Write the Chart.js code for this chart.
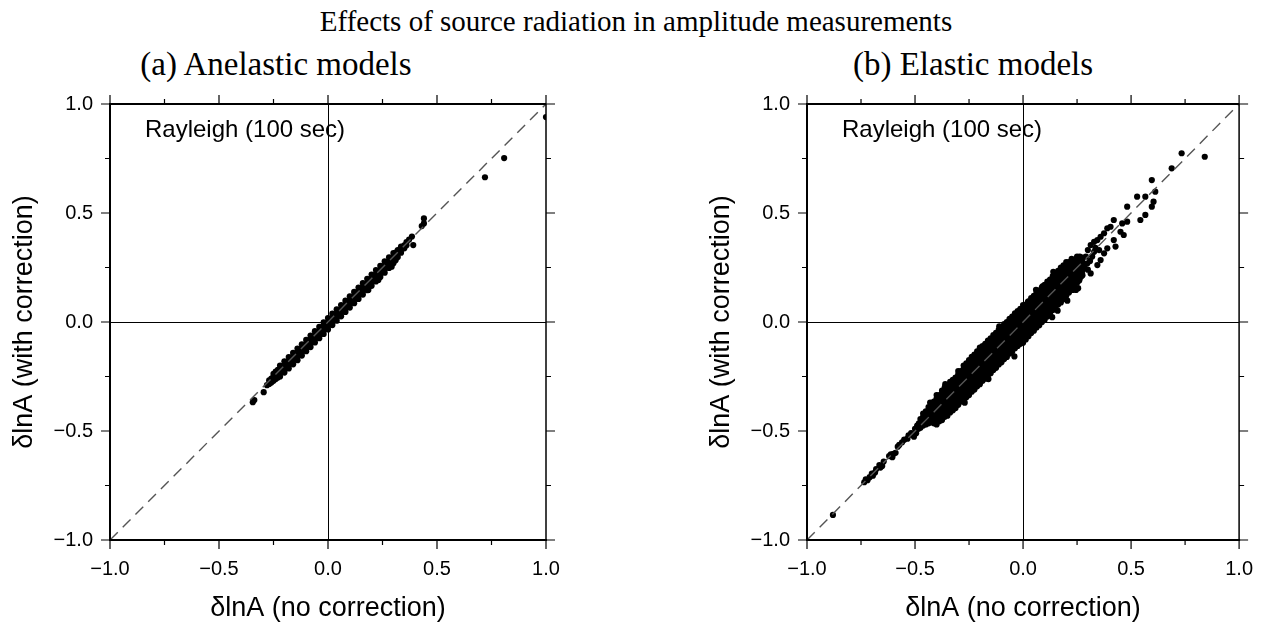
<!DOCTYPE html>
<html><head><meta charset="utf-8">
<script src="https://cdn.jsdelivr.net/npm/chart.js@4.4.1/dist/chart.umd.min.js"></script>
<style>
html,body{margin:0;padding:0;background:#fff;width:1270px;height:628px;overflow:hidden;}
#wrap{position:relative;width:1270px;height:628px;}
.t{position:absolute;font-family:'Liberation Serif','Times New Roman',serif;color:#000;white-space:nowrap;transform:translateX(-50%);line-height:1;}
.box{position:absolute;top:0;width:635px;height:628px;}
</style></head><body>
<div id="wrap">
<div class="t" style="left:636px;top:7px;font-size:29px;">Effects of source radiation in amplitude measurements</div>
<div class="t" style="left:276px;top:48px;font-size:33px;">(a) Anelastic models</div>
<div class="t" style="left:973px;top:48px;font-size:33px;">(b) Elastic models</div>
<div class="box" style="left:0"><canvas id="c1" width="635" height="628"></canvas></div>
<div class="box" style="left:635px"><canvas id="c2" width="635" height="628"></canvas></div>
</div>
<script>
// ---- axis / labels ----
const majorTicks = [-1, -0.5, 0, 0.5, 1];
const minorTicks = [-0.75, -0.25, 0.25, 0.75];
const diagonalLine = [-1, 1];
const xTitle = 'δlnA (no correction)';
const yTitle = 'δlnA (with correction)';
const panelNote = 'Rayleigh (100 sec)';

// ---- (a) Anelastic models: columns [no correction, [with correction ...]] ----
const anelasticBand = [
[-0.345,[-0.368]],[-0.338,[-0.358]],[-0.295,[-0.322]],[-0.28,[-0.29]],[-0.27,[-0.284,-0.268]],[-0.26,[-0.278,-0.26]],
[-0.25,[-0.27,-0.252,-0.238]],[-0.24,[-0.262,-0.245,-0.228]],[-0.23,[-0.255,-0.238,-0.22]],
[-0.22,[-0.25,-0.234,-0.218,-0.2]],[-0.2,[-0.232,-0.216,-0.198,-0.18]],[-0.18,[-0.213,-0.196,-0.178,-0.161]],
[-0.16,[-0.194,-0.177,-0.158,-0.142]],[-0.14,[-0.175,-0.158,-0.139,-0.122]],[-0.12,[-0.154,-0.138,-0.12,-0.102]],
[-0.1,[-0.134,-0.118,-0.1,-0.082]],[-0.08,[-0.115,-0.098,-0.08,-0.062]],[-0.06,[-0.094,-0.078,-0.06,-0.042]],
[-0.04,[-0.074,-0.058,-0.04,-0.022]],[-0.02,[-0.055,-0.038,-0.02,-0.002]],[0.0,[-0.034,-0.018,0.0,0.018]],
[0.02,[-0.014,0.002,0.02,0.038]],[0.04,[0.006,0.022,0.04,0.058]],[0.06,[0.026,0.042,0.06,0.078]],
[0.08,[0.046,0.062,0.08,0.098]],[0.1,[0.066,0.082,0.1,0.118]],[0.12,[0.086,0.102,0.12,0.138]],
[0.14,[0.106,0.122,0.14,0.158]],[0.16,[0.126,0.142,0.16,0.178]],[0.18,[0.146,0.162,0.18,0.198]],
[0.2,[0.166,0.182,0.2,0.218]],[0.22,[0.186,0.202,0.22,0.238]],[0.24,[0.206,0.222,0.24,0.258]],
[0.26,[0.226,0.242,0.26,0.278]],[0.28,[0.248,0.262,0.28,0.297]],[0.3,[0.27,0.284,0.3,0.316]],
[0.31,[0.283,0.3,0.318]],[0.32,[0.298,0.315,0.33]],[0.335,[0.318,0.334,0.346]],[0.35,[0.338,0.352]],
[0.36,[0.352,0.366]],[0.372,[0.378]],[0.385,[0.392]]
];
const anelasticOutliers = [
[0.44,0.475],[0.44,0.452],[0.43,0.44],[0.391,0.353],[0.292,0.254],[0.231,0.193],[0.185,0.147],
[0.72,0.664],[0.808,0.752],[1.0,0.94]
];

// ---- (b) Elastic models ----
const elasticTail = [
[-0.88,-0.885],[-0.735,-0.735],[-0.728,-0.722],[-0.72,-0.726],[-0.71,-0.712],[-0.7,-0.695],[-0.695,-0.705],[-0.685,-0.69],
[-0.68,-0.675],[-0.665,-0.656],[-0.66,-0.668],[-0.652,-0.66],[-0.645,-0.64],[-0.62,-0.615],[-0.612,-0.607],[-0.605,-0.62],
[-0.6,-0.605],[-0.59,-0.6],[-0.58,-0.572],[-0.573,-0.564],[-0.56,-0.552],[-0.55,-0.54],[-0.535,-0.535],[-0.53,-0.52],
[-0.518,-0.51],[-0.505,-0.526],[-0.5,-0.49],[-0.495,-0.51],[-0.49,-0.475],[-0.482,-0.465],[-0.484,-0.49]
];
const elasticCore = [
[-0.475,[-0.485,-0.465,-0.445]],
[-0.4625,[-0.475,-0.455,-0.435,-0.42]],
[-0.45,[-0.47,-0.45,-0.43,-0.41]],
[-0.4375,[-0.465,-0.445,-0.425,-0.405,-0.39]],
[-0.425,[-0.46,-0.44,-0.42,-0.4,-0.38]],
[-0.4125,[-0.465,-0.445,-0.425,-0.405,-0.385,-0.365]],
[-0.4,[-0.47,-0.45,-0.43,-0.41,-0.39,-0.37,-0.35,-0.335]],
[-0.3875,[-0.455,-0.435,-0.415,-0.395,-0.375,-0.355,-0.335]],
[-0.375,[-0.45,-0.43,-0.41,-0.39,-0.37,-0.35,-0.33,-0.315]],
[-0.3625,[-0.435,-0.415,-0.395,-0.375,-0.355,-0.335,-0.315,-0.3]],
[-0.35,[-0.43,-0.41,-0.39,-0.37,-0.35,-0.33,-0.31,-0.29]],
[-0.3375,[-0.415,-0.395,-0.375,-0.355,-0.335,-0.315,-0.295,-0.275]],
[-0.325,[-0.405,-0.385,-0.365,-0.345,-0.325,-0.305,-0.285,-0.265]],
[-0.3125,[-0.395,-0.375,-0.355,-0.335,-0.315,-0.295,-0.275,-0.255]],
[-0.3,[-0.38,-0.36,-0.34,-0.32,-0.3,-0.28,-0.26,-0.24]],
[-0.2875,[-0.365,-0.345,-0.325,-0.305,-0.285,-0.265,-0.245,-0.225]],
[-0.275,[-0.355,-0.335,-0.315,-0.295,-0.275,-0.255,-0.235,-0.215,-0.2]],
[-0.2625,[-0.345,-0.325,-0.305,-0.285,-0.265,-0.245,-0.225,-0.205,-0.19]],
[-0.25,[-0.335,-0.315,-0.295,-0.275,-0.255,-0.235,-0.215,-0.195,-0.175]],
[-0.2375,[-0.32,-0.3,-0.28,-0.26,-0.24,-0.22,-0.2,-0.18,-0.16]],
[-0.225,[-0.31,-0.29,-0.27,-0.25,-0.23,-0.21,-0.19,-0.17,-0.15]],
[-0.2125,[-0.295,-0.275,-0.255,-0.235,-0.215,-0.195,-0.175,-0.155,-0.135]],
[-0.2,[-0.285,-0.265,-0.245,-0.225,-0.205,-0.185,-0.165,-0.145,-0.125]],
[-0.1875,[-0.27,-0.25,-0.23,-0.21,-0.19,-0.17,-0.15,-0.13,-0.11]],
[-0.175,[-0.26,-0.24,-0.22,-0.2,-0.18,-0.16,-0.14,-0.12,-0.1]],
[-0.1625,[-0.245,-0.225,-0.205,-0.185,-0.165,-0.145,-0.125,-0.105,-0.085]],
[-0.15,[-0.235,-0.215,-0.195,-0.175,-0.155,-0.135,-0.115,-0.095,-0.075]],
[-0.1375,[-0.22,-0.2,-0.18,-0.16,-0.14,-0.12,-0.1,-0.08,-0.06]],
[-0.125,[-0.21,-0.19,-0.17,-0.15,-0.13,-0.11,-0.09,-0.07,-0.05]],
[-0.1125,[-0.195,-0.175,-0.155,-0.135,-0.115,-0.095,-0.075,-0.055,-0.035]],
[-0.1,[-0.185,-0.165,-0.145,-0.125,-0.105,-0.085,-0.065,-0.045,-0.025]],
[-0.0875,[-0.17,-0.15,-0.13,-0.11,-0.09,-0.07,-0.05,-0.03,-0.01]],
[-0.075,[-0.16,-0.14,-0.12,-0.1,-0.08,-0.06,-0.04,-0.02,0.0]],
[-0.0625,[-0.145,-0.125,-0.105,-0.085,-0.065,-0.045,-0.025,-0.005,0.015]],
[-0.05,[-0.135,-0.115,-0.095,-0.075,-0.055,-0.035,-0.015,0.005,0.025]],
[-0.0375,[-0.12,-0.1,-0.08,-0.06,-0.04,-0.02,0.0,0.02,0.04]],
[-0.025,[-0.11,-0.09,-0.07,-0.05,-0.03,-0.01,0.01,0.03,0.05]],
[-0.0125,[-0.1,-0.08,-0.06,-0.04,-0.02,0.0,0.02,0.04,0.06]],
[0.0,[-0.095,-0.075,-0.055,-0.035,-0.015,0.005,0.025,0.045,0.065,0.078]],
[0.0125,[-0.08,-0.06,-0.04,-0.02,0.0,0.02,0.04,0.06,0.08]],
[0.025,[-0.065,-0.045,-0.025,-0.005,0.015,0.035,0.055,0.075,0.095]],
[0.0375,[-0.05,-0.03,-0.01,0.01,0.03,0.05,0.07,0.09,0.11]],
[0.05,[-0.04,-0.02,0.0,0.02,0.04,0.06,0.08,0.1,0.12]],
[0.0625,[-0.025,-0.005,0.015,0.035,0.055,0.075,0.095,0.115,0.135]],
[0.075,[-0.015,0.005,0.025,0.045,0.065,0.085,0.105,0.125,0.145]],
[0.0875,[0.0,0.02,0.04,0.06,0.08,0.1,0.12,0.14,0.16]],
[0.1,[0.01,0.03,0.05,0.07,0.09,0.11,0.13,0.15,0.17]],
[0.1125,[0.025,0.045,0.065,0.085,0.105,0.125,0.145,0.165,0.185]],
[0.125,[0.04,0.06,0.08,0.1,0.12,0.14,0.16,0.18,0.195]],
[0.1375,[0.055,0.075,0.095,0.115,0.135,0.155,0.175,0.195,0.21]],
[0.15,[0.065,0.085,0.105,0.125,0.145,0.165,0.185,0.205,0.22]],
[0.1625,[0.08,0.1,0.12,0.14,0.16,0.18,0.2,0.22,0.235]],
[0.175,[0.09,0.11,0.13,0.15,0.17,0.19,0.21,0.23,0.25]],
[0.1875,[0.105,0.125,0.145,0.165,0.185,0.205,0.225,0.245,0.26]],
[0.2,[0.12,0.14,0.16,0.18,0.2,0.22,0.24,0.26,0.275]],
[0.2125,[0.135,0.155,0.175,0.195,0.215,0.235,0.255,0.275]],
[0.225,[0.15,0.17,0.19,0.21,0.23,0.25,0.27,0.29]],
[0.2375,[0.165,0.185,0.205,0.225,0.245,0.265,0.285]],
[0.25,[0.18,0.2,0.22,0.24,0.26,0.28,0.3]],
[0.2625,[0.2,0.22,0.24,0.26,0.28,0.3]],
[0.275,[0.215,0.235,0.255,0.275,0.295]]
];
const elasticSpread = [
[0.841,0.758],[0.734,0.774],[0.688,0.705],[0.596,0.651],[0.612,0.598],[0.566,0.575],[0.528,0.575],[0.604,0.552],
[0.596,0.529],[0.482,0.529],[0.566,0.491],[0.543,0.468],[0.482,0.46],[0.459,0.452],[0.42,0.468],[0.405,0.437],
[0.39,0.43],[0.375,0.407],[0.359,0.391],[0.344,0.376],[0.329,0.368],[0.313,0.353],[0.451,0.414],[0.466,0.399],
[0.42,0.376],[0.428,0.346],[0.39,0.338],[0.375,0.315],[0.352,0.33],[0.329,0.322],[0.359,0.284],[0.344,0.261],
[0.313,0.223],[0.298,0.269],[0.291,0.3],[0.267,0.292],[0.252,0.277],[0.237,0.284],[0.222,0.177],[0.245,0.147],
[0.1,0.162],[0.092,0.165],[0.023,0.093],[0.031,0.09],[-0.023,0.032],[-0.032,0.035],[0.3,0.33],[0.32,0.3],
[0.335,0.34],[0.31,0.28],[0.285,0.25],[0.3,0.24],[0.27,0.21],[0.26,0.19],[0.191,0.162],[0.229,0.147],[0.115,0.041],
[0.16,0.052],[0.205,0.098],[0.255,0.155],[0.135,0.022],[-0.04,-0.158],[-0.16,-0.262],[-0.27,-0.37],[-0.3,-0.225],
[-0.2,-0.118],[-0.11,-0.02],[0.06,0.148],[0.14,0.23],[-0.36,-0.285],[-0.43,-0.37]
];

const FONT = "'Liberation Sans', Arial, Helvetica, sans-serif";
const fmt = v => (Math.round(v * 10) / 10).toFixed(1).replace('-', '\u2212');

const framePlugin = {
  id: 'frame',
  beforeDatasetsDraw(chart) {
    const {ctx, chartArea: a, scales: {x, y}} = chart;
    ctx.save();
    ctx.strokeStyle = '#000';
    ctx.lineWidth = 1;
    const x0 = Math.round(x.getPixelForValue(0)) + 0.5;
    const y0 = Math.round(y.getPixelForValue(0)) + 0.5;
    ctx.beginPath();
    ctx.moveTo(x0, a.top); ctx.lineTo(x0, a.bottom);
    ctx.moveTo(a.left, y0); ctx.lineTo(a.right, y0);
    ctx.stroke();
    ctx.restore();
  },
  afterDraw(chart) {
    const {ctx, chartArea: a, scales: {x, y}} = chart;
    ctx.save();
    ctx.strokeStyle = '#000';
    ctx.lineWidth = 2;
    ctx.beginPath();
    ctx.moveTo(a.left, a.top); ctx.lineTo(a.right, a.top);
    ctx.moveTo(a.left, a.top - 1); ctx.lineTo(a.left, a.bottom + 1);
    ctx.moveTo(a.left, a.bottom); ctx.lineTo(a.right + 1, a.bottom);
    ctx.stroke();
    ctx.lineWidth = 1.5;
    ctx.beginPath();
    ctx.moveTo(a.right, a.top); ctx.lineTo(a.right, a.bottom);
    ctx.stroke();
    ctx.lineWidth = 1.2;
    const draw = (vals, len) => {
      ctx.beginPath();
      vals.forEach(v => {
        const px = x.getPixelForValue(v), py = y.getPixelForValue(v);
        ctx.moveTo(px, a.bottom); ctx.lineTo(px, a.bottom + len);
        ctx.moveTo(px, a.top); ctx.lineTo(px, a.top - len);
        ctx.moveTo(a.left, py); ctx.lineTo(a.left - len, py);
        ctx.moveTo(a.right, py); ctx.lineTo(a.right + len, py);
      });
      ctx.stroke();
    };
    draw(majorTicks, 9);
    draw(minorTicks, 5);
    ctx.fillStyle = '#000';
    ctx.font = "24px " + FONT;
    ctx.textBaseline = 'middle';
    ctx.textAlign = 'left';
    ctx.fillText(panelNote, a.left + 35, a.top + 26);
    ctx.restore();
  }
};

function toPoints(columns, pairs) {
  const pts = [];
  columns.forEach(c => c[1].forEach(v => pts.push({x: c[0], y: v})));
  pairs.forEach(p => pts.push({x: p[0], y: p[1]}));
  return pts;
}

function makePanel(id, pts, padLeft, padRight) {
  return new Chart(document.getElementById(id), {
    type: 'scatter',
    data: {
      datasets: [
        {
          type: 'line',
          data: diagonalLine.map(v => ({x: v, y: v})),
          borderColor: '#555', borderWidth: 1.4, borderDash: [11, 7],
          pointRadius: 0, fill: false, order: 0
        },
        {
          data: pts, pointRadius: 3.1, pointBackgroundColor: '#000',
          pointBorderWidth: 0, order: 1
        }
      ]
    },
    options: {
      responsive: false, animation: false, events: [],
      plugins: {legend: {display: false}, tooltip: {enabled: false}},
      layout: {padding: {left: padLeft, right: padRight, top: 104, bottom: 0}},
      scales: {
        x: {
          type: 'linear', min: -1, max: 1,
          afterBuildTicks: s => { s.ticks = majorTicks.map(v => ({value: v})); },
          afterFit: s => { s.height = 88; },
          ticks: {callback: fmt, color: '#000', font: {family: FONT, size: 20}, padding: 17, maxRotation: 0, autoSkip: false},
          grid: {display: false, drawTicks: false},
          border: {display: false},
          title: {display: true, text: xTitle, color: '#000', font: {family: FONT, size: 27}, padding: {top: 4, bottom: 3}}
        },
        y: {
          type: 'linear', min: -1, max: 1,
          afterBuildTicks: s => { s.ticks = majorTicks.map(v => ({value: v})); },
          afterFit: s => { s.width = 110; },
          ticks: {callback: fmt, color: '#000', font: {family: FONT, size: 20}, padding: 17, autoSkip: false},
          grid: {display: false, drawTicks: false},
          border: {display: false},
          title: {display: true, text: yTitle, color: '#000', font: {family: FONT, size: 27}, padding: {top: 8, bottom: 4}}
        }
      }
    },
    plugins: [framePlugin]
  });
}

makePanel('c1', toPoints(anelasticBand, anelasticOutliers), 0, 89);
makePanel('c2', toPoints(elasticCore, elasticTail.concat(elasticSpread)), 62, 27);
</script>
</body></html>
